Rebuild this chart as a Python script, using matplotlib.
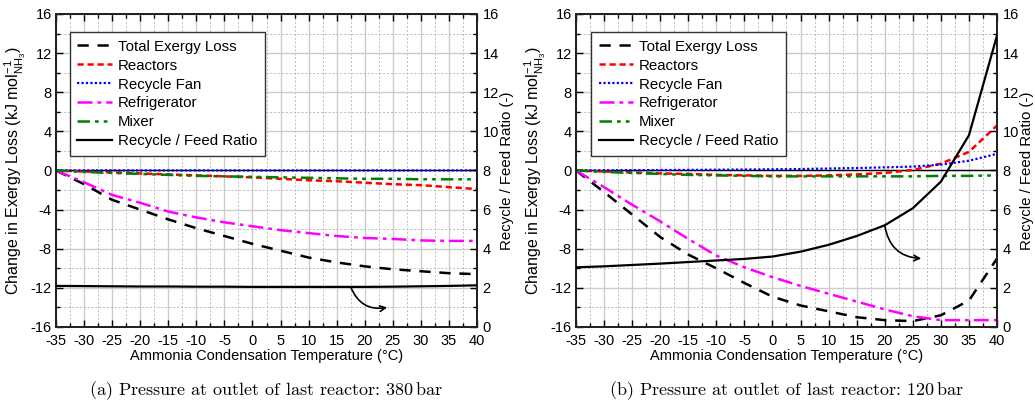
import matplotlib
matplotlib.use("Agg")
import matplotlib.pyplot as plt
from matplotlib.ticker import MultipleLocator

plt.rcParams['font.family'] = ['Liberation Sans', 'DejaVu Sans']
plt.rcParams['mathtext.fontset'] = 'custom'
plt.rcParams['mathtext.rm'] = 'Liberation Sans'
plt.rcParams['mathtext.it'] = 'Liberation Sans:italic'
plt.rcParams['axes.unicode_minus'] = False

# condensation temperature (degC)
temp = [-35, -30, -25, -20, -15, -10, -5, 0, 5, 10, 15, 20, 25, 30, 35, 40]

# 380 bar case
total_380 = [0, -1.4, -3.0, -4.0, -5.0, -5.9, -6.7, -7.5, -8.2, -8.9, -9.4, -9.8, -10.1, -10.3, -10.5, -10.6]
reactors_380 = [0, -0.1, -0.2, -0.3, -0.4, -0.5, -0.6, -0.7, -0.85, -1.0, -1.1, -1.25, -1.4, -1.5, -1.7, -1.9]
fan_380 = [0, 0.01, 0.01, 0.01, 0.01, 0.01, 0.01, 0.01, 0.01, 0.01, 0.01, 0.01, 0.01, 0.01, 0.01, 0.01]
fridge_380 = [0, -1.2, -2.5, -3.3, -4.2, -4.8, -5.3, -5.7, -6.1, -6.4, -6.7, -6.9, -7.0, -7.15, -7.2, -7.2]
mixer_380 = [0, -0.15, -0.25, -0.35, -0.45, -0.55, -0.6, -0.65, -0.7, -0.75, -0.8, -0.85, -0.85, -0.9, -0.9, -0.9]
ratio_380 = [2.1, 2.09, 2.08, 2.07, 2.07, 2.06, 2.06, 2.05, 2.05, 2.05, 2.05, 2.05, 2.06, 2.08, 2.1, 2.13]

# 120 bar case
total_120 = [0, -2.2, -4.5, -6.8, -8.6, -10.0, -11.5, -12.9, -13.8, -14.4, -15.0, -15.3, -15.4, -14.8, -13.3, -9.0]
reactors_120 = [0, -0.1, -0.2, -0.3, -0.35, -0.45, -0.5, -0.55, -0.55, -0.5, -0.4, -0.25, 0.05, 0.7, 1.9, 4.6]
fan_120 = [0, 0.02, 0.03, 0.05, 0.06, 0.08, 0.1, 0.12, 0.15, 0.2, 0.25, 0.32, 0.4, 0.6, 1.0, 1.7]
fridge_120 = [0, -1.7, -3.5, -5.2, -7.0, -8.7, -9.9, -10.9, -11.8, -12.6, -13.4, -14.2, -14.9, -15.3, -15.3, -15.3]
mixer_120 = [0, -0.15, -0.25, -0.35, -0.45, -0.5, -0.55, -0.6, -0.6, -0.6, -0.6, -0.6, -0.6, -0.55, -0.55, -0.5]
ratio_120 = [3.05, 3.1, 3.17, 3.24, 3.32, 3.4, 3.48, 3.6, 3.85, 4.2, 4.65, 5.2, 6.07, 7.43, 9.8, 14.9]

labels = ["Total Exergy Loss", "Reactors", "Recycle Fan", "Refrigerator", "Mixer", "Recycle / Feed Ratio"]
captions = ["(a) Pressure at outlet of last reactor: 380$\\,$bar",
            "(b) Pressure at outlet of last reactor: 120$\\,$bar"]

styles = [
    dict(color='black', ls=(0, (4.5, 3.5)), lw=1.8),
    dict(color='#ff0000', ls=(0, (2.5, 1.5)), lw=1.8),
    dict(color='#0000ff', ls=(0, (1, 1)), lw=1.6),
    dict(color='#ff00ff', ls=(0, (6, 2, 1.5, 2)), lw=1.8),
    dict(color='#008000', ls=(0, (5, 2, 1.5, 2, 1.5, 2)), lw=1.8),
]
ratio_style = dict(color='black', ls='-', lw=1.6)


def draw_panel(fig, left, series, ratio, arrow_from, arrow_to, caption, legend_x):
    ax = fig.add_axes([left, 0.1886, 0.4068, 0.7767])
    ax2 = ax.twinx()

    ax.set_xlim(-35, 40)
    ax.set_ylim(-16, 16)
    ax2.set_ylim(0, 16)

    ax.xaxis.set_major_locator(MultipleLocator(5))
    ax.xaxis.set_minor_locator(MultipleLocator(2.5))
    ax.yaxis.set_major_locator(MultipleLocator(4))
    ax.yaxis.set_minor_locator(MultipleLocator(2))
    ax2.yaxis.set_major_locator(MultipleLocator(2))
    ax2.yaxis.set_minor_locator(MultipleLocator(1))

    ax.grid(which='major', color='#cccccc', lw=1.0, ls='-')
    ax.grid(which='minor', color='#bbbbbb', lw=0.7, ls=(0, (2, 2)))
    ax.set_axisbelow(True)
    ax.axhline(0, color='black', lw=1.0, zorder=1)

    ax.tick_params(which='both', direction='in', top=True, labelsize=10.5)
    ax.tick_params(axis='x', pad=5)
    ax.tick_params(axis='y', pad=3)
    ax.tick_params(which='major', length=5, width=1)
    ax.tick_params(which='minor', length=3, width=1)
    ax2.tick_params(which='both', direction='in', labelsize=10.5, pad=4)
    ax2.tick_params(which='major', length=5, width=1)
    ax2.tick_params(which='minor', length=3, width=1)
    for a in (ax, ax2):
        for sp in a.spines.values():
            sp.set_linewidth(1.4)
            sp.set_color('#222222')

    handles = []
    for vals, st, lab in zip(series, styles, labels):
        h, = ax.plot(temp, vals, label=lab, zorder=3, **st)
        handles.append(h)
    h, = ax2.plot(temp, ratio, label=labels[-1], zorder=3, **ratio_style)
    handles.append(h)

    ax2.annotate('', xy=arrow_to, xytext=arrow_from,
                 arrowprops=dict(arrowstyle='->', color='black', lw=1.2,
                                 connectionstyle='arc3,rad=0.4',
                                 shrinkA=0, shrinkB=0))

    ax.set_xlabel("Ammonia Condensation Temperature (\u00b0C)", fontsize=10.5, labelpad=1)
    ax.set_ylabel("Change in Exergy Loss (kJ mol$^{-1}_{\\mathrm{NH_3}}$)", fontsize=11.5, labelpad=2)
    ax2.set_ylabel("Recycle / Feed Ratio (-)", fontsize=10.8, labelpad=1)

    leg = ax2.legend(handles=handles, loc='upper left', bbox_to_anchor=(legend_x, 0.942),
                     borderaxespad=0, fontsize=10.8, handlelength=2.3, handletextpad=0.4,
                     labelspacing=0.33, fancybox=False, framealpha=1, edgecolor='#333333',
                     borderpad=0.5)
    leg.get_frame().set_linewidth(1.0)

    fig.text(left + 0.4068 / 2, 0.03, caption, ha='center', va='center',
             fontsize=13, fontname='cmr10')
    return ax, ax2


fig = plt.figure(figsize=(10.35, 4.03), dpi=100)

draw_panel(fig, 0.0541,
           [total_380, reactors_380, fan_380, fridge_380, mixer_380], ratio_380,
           (17.5, 2.05), (24, 1.0), captions[0], 0.033)
draw_panel(fig, 0.5565,
           [total_120, reactors_120, fan_120, fridge_120, mixer_120], ratio_120,
           (20, 5.2), (26.5, 3.5), captions[1], 0.036)

fig.savefig("out.png", dpi=100)
